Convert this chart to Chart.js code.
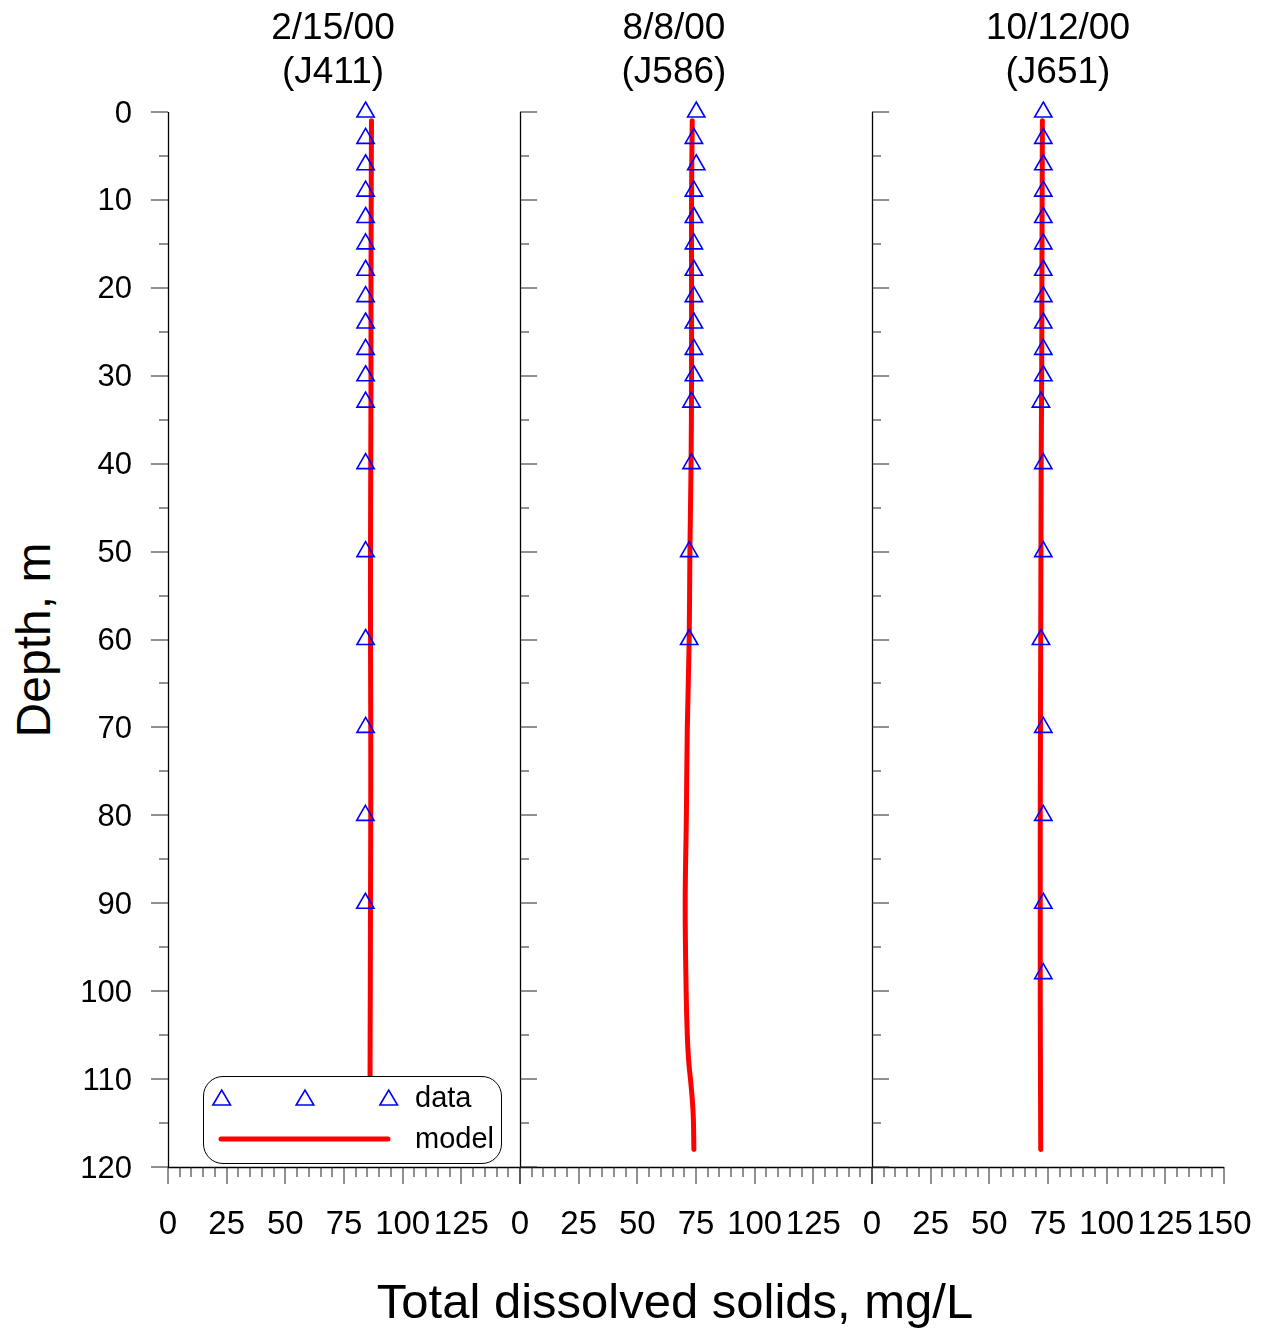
<!DOCTYPE html>
<html>
<head>
<meta charset="utf-8">
<script src="https://cdn.jsdelivr.net/npm/chart.js@4.4.1/dist/chart.umd.min.js"></script>
<style>
body{margin:0;background:#fff;font-family:"Liberation Sans",Arial,sans-serif;color:#000;}
#wrap{position:relative;width:1265px;height:1331px;overflow:hidden;background:#fff;}
canvas{position:absolute;top:0;}
.ptitle{position:absolute;top:5px;width:300px;text-align:center;font-size:37px;line-height:44px;white-space:nowrap;}
#ytitle{position:absolute;left:34px;top:640px;font-size:48px;line-height:48px;white-space:nowrap;transform:translate(-50%,-50%) rotate(-90deg);}
#xtitle{position:absolute;left:0;width:1350px;top:1277px;text-align:center;font-size:49px;line-height:48px;white-space:nowrap;}
#legend{position:absolute;left:203px;top:1076px;width:299px;height:88px;box-sizing:border-box;border:1px solid #000;border-radius:20px;background:#fff;z-index:5;}
#legend svg{position:absolute;left:0;top:0;}
#legend span{position:absolute;left:211px;font-size:29px;line-height:29px;}
</style>
</head>
<body>
<div id="wrap">
  <div id="ytitle">Depth, m</div>
  <div id="xtitle">Total dissolved solids, mg/L</div>
  <div id="legend">
    <svg width="299" height="88">
      <polygon points="8.9,28 17.7,13 26.5,28" fill="none" stroke="#0000ff" stroke-width="1.6"/>
      <polygon points="92.2,28 101,13 109.8,28" fill="none" stroke="#0000ff" stroke-width="1.6"/>
      <polygon points="175.9,28 184.7,13 193.5,28" fill="none" stroke="#0000ff" stroke-width="1.6"/>
      <line x1="17" y1="62" x2="184" y2="62" stroke="#ff0000" stroke-width="5" stroke-linecap="round"/>
    </svg>
    <span style="top:6px">data</span>
    <span style="top:47px">model</span>
  </div>
</div>
<script>
// axis ticks
const tdsTicks = [0, 25, 50, 75, 100, 125, 150];
const depthTicks = [0, 10, 20, 30, 40, 50, 60, 70, 80, 90, 100, 110, 120];

const titles = [['2/15/00', '(J411)'], ['8/8/00', '(J586)'], ['10/12/00', '(J651)']];
const titleCenters = [333, 674, 1058];

// 2/15/00 (J411)
const dataDepth1 = [0, 3, 6, 9, 12, 15, 18, 21, 24, 27, 30, 33, 40, 50, 60, 70, 80, 90];
const dataTds1 = [84.2, 84.2, 84.2, 84.2, 84.2, 84.2, 84.2, 84.2, 84.2, 84.2, 84.2, 84.2, 84.2, 84.2, 84.2, 84.2, 84.1, 84.1];
const modelDepth1 = [1, 10, 20, 30, 40, 50, 60, 70, 80, 90, 100, 110, 118];
const modelTds1 = [86.7, 86.6, 86.5, 86.5, 86.4, 86.3, 86.3, 86.4, 86.4, 86.3, 86.2, 86.1, 86.1];

// 8/8/00 (J586)
const dataDepth2 = [0, 3, 6, 9, 12, 15, 18, 21, 24, 27, 30, 33, 40, 50, 60];
const dataTds2 = [75.1, 74.1, 75.1, 74.1, 74.1, 74.1, 74.1, 74.1, 74.1, 74.1, 74.1, 73.1, 73.1, 72.1, 72.1];
const modelDepth2 = [1, 10, 20, 30, 40, 50, 60, 70, 80, 90, 100, 105, 108, 111, 114, 118];
const modelTds2 = [73.4, 73.1, 73.1, 73.1, 72.9, 72.4, 72.1, 71.3, 70.9, 70.4, 70.8, 71.3, 71.9, 73.0, 73.8, 74.1];

// 10/12/00 (J651)
const dataDepth3 = [0, 3, 6, 9, 12, 15, 18, 21, 24, 27, 30, 33, 40, 50, 60, 70, 80, 90, 98];
const dataTds3 = [73, 73, 73, 73, 73, 73, 73, 73, 73, 73, 73, 72, 73, 73, 72, 73, 73, 73, 73];
const modelDepth3 = [1, 10, 20, 30, 40, 50, 60, 70, 80, 90, 100, 110, 118];
const modelTds3 = [72.6, 72.5, 72.4, 72.3, 72.1, 72.0, 71.9, 71.8, 71.7, 71.7, 71.7, 71.8, 71.9];

const FONT = '"Liberation Sans", Arial, sans-serif';
const PAD_L = 70, PAD_R = 80;

// axis lines + major/minor tick marks (Chart.js has no minor ticks)
const panelAxes = {
  id: 'panelAxes',
  beforeDatasetsDraw(chart, args, opts) {
    const {ctx, chartArea: {left, right, bottom, top}, scales: {x, y}} = chart;
    ctx.save();
    ctx.strokeStyle = '#000';
    ctx.lineWidth = 1.3;
    ctx.beginPath();
    ctx.moveTo(left + 0.5, top); ctx.lineTo(left + 0.5, bottom);
    ctx.moveTo(left, bottom + 0.5); ctx.lineTo(right, bottom + 0.5);
    ctx.stroke();
    ctx.lineWidth = 1;
    ctx.strokeStyle = '#222';
    ctx.beginPath();
    const dir = opts.outward ? -1 : 1;
    for (let v = 0; v <= 120; v += 5) {
      const py = Math.round(y.getPixelForValue(v));
      const len = v % 10 === 0 ? 17 : 9;
      ctx.moveTo(left, py); ctx.lineTo(left + dir * len, py);
    }
    for (let v = 0; v <= 150; v += 5) {
      const px = Math.round(x.getPixelForValue(v));
      const len = v % 25 === 0 ? 17 : 10;
      ctx.moveTo(px, bottom); ctx.lineTo(px, bottom + len);
    }
    ctx.stroke();
    ctx.restore();
  }
};
Chart.register(panelAxes);

function panel(i, dDepth, dTds, mDepth, mTds) {
  const first = i === 0;
  const padL = first ? 0 : PAD_L;
  const cv = document.createElement('canvas');
  cv.width = (first ? 168 : PAD_L) + 352 + PAD_R;
  cv.height = 1331;
  cv.style.left = (168 + 352 * i - (first ? 168 : PAD_L)) + 'px';
  document.getElementById('wrap').appendChild(cv);

  const t = document.createElement('div');
  t.className = 'ptitle';
  t.style.left = (titleCenters[i] - 150) + 'px';
  t.innerHTML = titles[i].join('<br>');
  document.getElementById('wrap').appendChild(t);

  new Chart(cv, {
    type: 'scatter',
    data: {
      datasets: [
        {label: 'data', data: dDepth.map((d, k) => ({x: dTds[k], y: d})), order: 0, clip: false,
         pointStyle: 'triangle', pointRadius: 10, pointHoverRadius: 10, pointBorderWidth: 1.6,
         borderColor: '#0000ff', backgroundColor: 'rgba(0,0,0,0)'},
        {label: 'model', data: mDepth.map((d, k) => ({x: mTds[k], y: d})), order: 1, showLine: true,
         borderColor: '#ff0000', borderWidth: 5, borderCapStyle: 'round', borderJoinStyle: 'round',
         pointRadius: 0, tension: 0.4}
      ]
    },
    options: {
      responsive: false, animation: false, devicePixelRatio: 1,
      events: [],
      layout: {padding: {left: padL, right: PAD_R, top: 112, bottom: 0}},
      plugins: {legend: {display: false}, tooltip: {enabled: false}, panelAxes: {outward: first}},
      scales: {
        x: {
          type: 'linear', min: 0, max: 150,
          grid: {display: false, drawTicks: false}, border: {display: false},
          afterBuildTicks: s => { s.ticks = tdsTicks.map(v => ({value: v})); },
          afterFit: s => { s.height = 164; },
          ticks: {color: '#000', font: {family: FONT, size: 33}, padding: 38, autoSkip: false, maxRotation: 0,
                  callback: v => (i < 2 && v === 150) ? '' : String(v)}
        },
        y: {
          type: 'linear', min: 0, max: 120, reverse: true, display: first,
          grid: {display: false, drawTicks: false}, border: {display: false},
          afterBuildTicks: s => { s.ticks = depthTicks.map(v => ({value: v})); },
          afterFit: s => { s.width = first ? 168 : 0; },
          ticks: {color: '#000', font: {family: FONT, size: 31}, padding: 36, autoSkip: false, labelOffset: 2}
        }
      }
    }
  });
}

panel(0, dataDepth1, dataTds1, modelDepth1, modelTds1);
panel(1, dataDepth2, dataTds2, modelDepth2, modelTds2);
panel(2, dataDepth3, dataTds3, modelDepth3, modelTds3);
</script>
</body>
</html>
